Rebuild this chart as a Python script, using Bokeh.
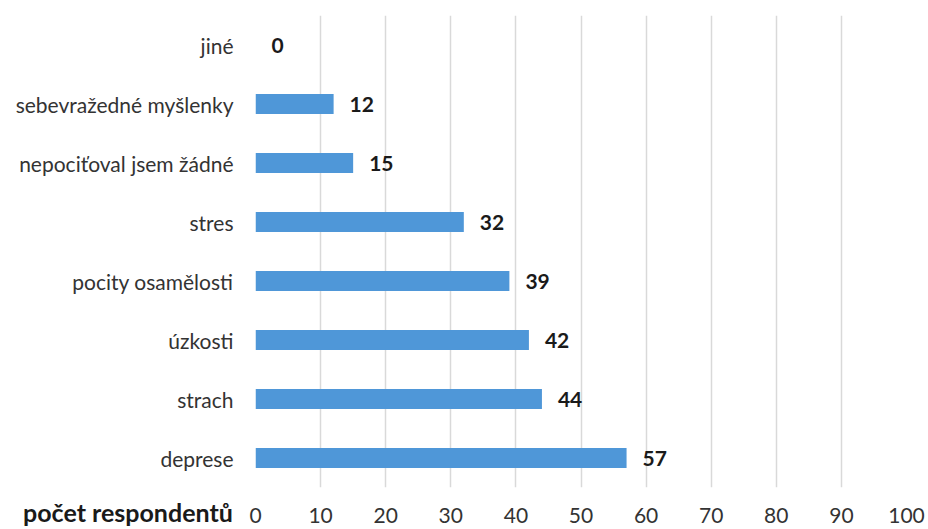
from bokeh.plotting import figure
from bokeh.models import ColumnDataSource, FactorRange, Range1d, FixedTicker
from bokeh.core.properties import value
from bokeh.embed import file_html
from bokeh.resources import INLINE

categories = ["jiné", "sebevražedné myšlenky", "nepociťoval jsem žádné", "stres",
              "pocity osamělosti", "úzkosti", "strach", "deprese"]
counts = [0, 12, 15, 32, 39, 42, 44, 57]
x_ticks = [0, 10, 20, 30, 40, 50, 60, 70, 80, 90, 100]
axis_title = "počet respondentů"

FONT = "Lato"

src = ColumnDataSource(dict(cat=categories, val=counts, lab=[str(v) for v in counts]))

p = figure(width=928, height=529, output_backend="svg", toolbar_location=None,
           y_range=FactorRange(factors=list(reversed(categories)), range_padding=0),
           x_range=Range1d(0, 100),
           min_border_left=255, min_border_right=22, min_border_top=15, min_border_bottom=42)
p.outline_line_color = None
p.background_fill_color = "white"
p.border_fill_color = "white"

p.hbar(y="cat", left=0, right="val", height=0.34, source=src,
       fill_color="#4f97d8", line_color=None)

p.text(x="val", y="cat", text="lab", source=src, x_offset=16,
       text_align="left", text_baseline="middle",
       text_font=value(FONT), text_font_size="21px", text_font_style="bold",
       text_color="#1a1a1a")

xa = p.xaxis[0]
xa.ticker = FixedTicker(ticks=x_ticks)
xa.axis_line_color = None
xa.major_tick_line_color = None
xa.minor_tick_line_color = None
xa.major_tick_out = 0
xa.major_label_standoff = 20
xa.major_label_text_font = FONT
xa.major_label_text_font_size = "21px"
xa.major_label_text_color = "#333333"
# the axis title sits on the tick-label row, left of the plot area:
# centred on the start of the axis, padded on the right with no-break spaces
xa.axis_label_align = "start"
xa.axis_label = axis_title + "\u00a0" * 42
xa.axis_label_text_font = FONT
xa.axis_label_text_font_size = "25px"
xa.axis_label_text_font_style = "bold"
xa.axis_label_text_color = "#1a1a1a"
xa.axis_label_standoff = -29

ya = p.yaxis[0]
ya.axis_line_color = None
ya.major_tick_line_color = None
ya.minor_tick_line_color = None
ya.major_tick_out = 0
ya.major_label_standoff = 22
ya.major_label_text_font = FONT
ya.major_label_text_font_size = "21px"
ya.major_label_text_color = "#333333"

p.ygrid.grid_line_color = None
p.xgrid.grid_line_color = "#d9d9d9"
p.xgrid.grid_line_width = 1.5

open("out.html", "w").write(file_html(p, INLINE))
